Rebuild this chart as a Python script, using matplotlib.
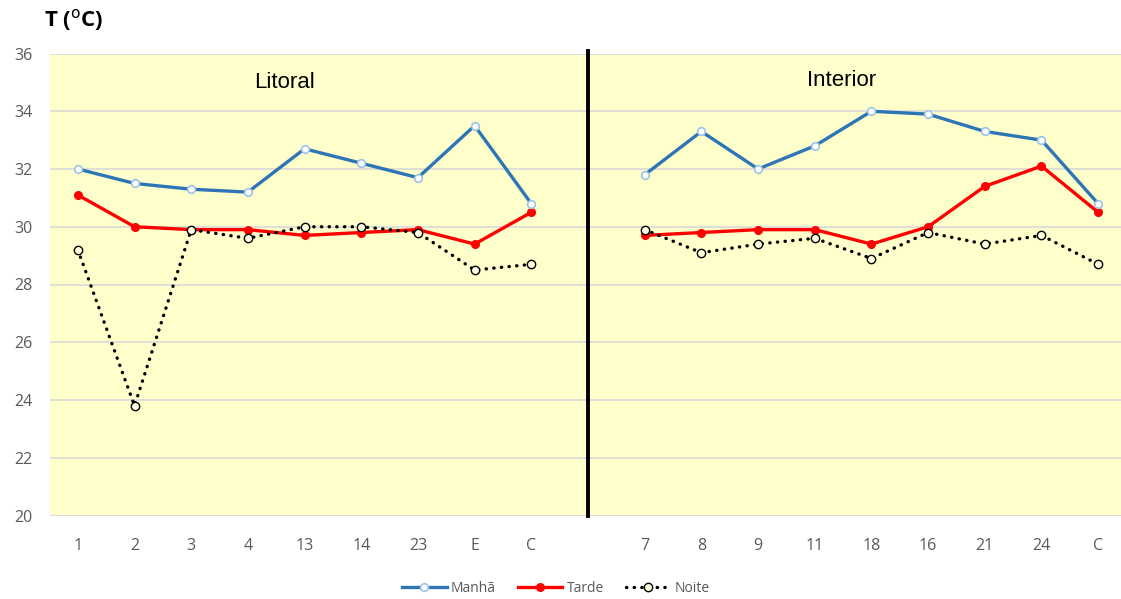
import numpy as np
import matplotlib
matplotlib.use("Agg")
import matplotlib.pyplot as plt

categories = ["1", "2", "3", "4", "13", "14", "23", "E", "C", "",
              "7", "8", "9", "11", "18", "16", "21", "24", "C"]
manha = [32.0, 31.5, 31.3, 31.2, 32.7, 32.2, 31.7, 33.5, 30.8, np.nan,
         31.8, 33.3, 32.0, 32.8, 34.0, 33.9, 33.3, 33.0, 30.8]
tarde = [31.1, 30.0, 29.9, 29.9, 29.7, 29.8, 29.9, 29.4, 30.5, np.nan,
         29.7, 29.8, 29.9, 29.9, 29.4, 30.0, 31.4, 32.1, 30.5]
noite = [29.2, 23.8, 29.9, 29.6, 30.0, 30.0, 29.8, 28.5, 28.7, np.nan,
         29.9, 29.1, 29.4, 29.6, 28.9, 29.8, 29.4, 29.7, 28.7]
yticks = [20, 22, 24, 26, 28, 30, 32, 34, 36]

plt.rcParams['font.family'] = ['Open Sans', 'DejaVu Sans']

W, H = 1121, 599
fig = plt.figure(figsize=(W/100, H/100), dpi=100)
left, right = 49.5, 1126.5
top, bottom = 53.5, 515.5
ax = fig.add_axes([left/W, 1 - bottom/H, (right-left)/W, (bottom-top)/H])
ax.set_facecolor('#FFFFCC')

x = np.arange(1, len(categories) + 1)
ax.set_xlim(0.5, len(categories) + 0.5)
ax.set_ylim(20, 36)
ax.set_yticks(yticks)
ax.set_xticks(x)
ax.set_xticklabels(categories)
ax.grid(axis='y', color='#D9D9D9', linewidth=1.2, zorder=0)
ax.set_axisbelow(True)
for s in ax.spines.values():
    s.set_visible(False)
ax.tick_params(axis='both', length=0, labelsize=11.5, labelcolor='#595959')
ax.tick_params(axis='x', pad=16)
ax.tick_params(axis='y', pad=12)

blue = '#2E75B6'
ax.plot(x, manha, color=blue, lw=2.4, marker='o', ms=5.5, mfc='white',
        mec='#9DC3E6', mew=1.2, zorder=4, label='Manhã')
ax.plot(x, tarde, color='#FF0000', lw=2.4, marker='o', ms=5.5, mfc='#FF0000',
        mec='#FF0000', zorder=3, label='Tarde')
ax.plot(x, noite, color='black', lw=2.4, ls=(0, (0.1, 2.2)), marker='o', ms=6,
        mfc='#FFFFE0', mec='black', mew=1.0, zorder=5, label='Noite',
        dash_capstyle='round')

ax.plot([10, 10], [20, 36.1], color='black', lw=2.8, clip_on=False, zorder=6)

ax.text(4.65, 34.98, 'Litoral', fontsize=16, ha='center', va='center',
        family=['Liberation Sans'], color='black')
ax.text(14.48, 35.08, 'Interior', fontsize=16, ha='center', va='center',
        family=['Liberation Sans'], color='black')

fig.text(44/W, 1 - 20/H, r'T (${}^{\mathrm{o}}$C)', fontsize=16, fontweight='bold',
         ha='left', va='center')

leg = fig.legend(loc='center', bbox_to_anchor=(556/W, 1 - 588/H), ncol=3,
                 frameon=False, fontsize=10, handlelength=3.2,
                 columnspacing=1.6, handletextpad=0.3)
for t in leg.get_texts():
    t.set_color('#595959')

fig.savefig('out.png', dpi=100)
